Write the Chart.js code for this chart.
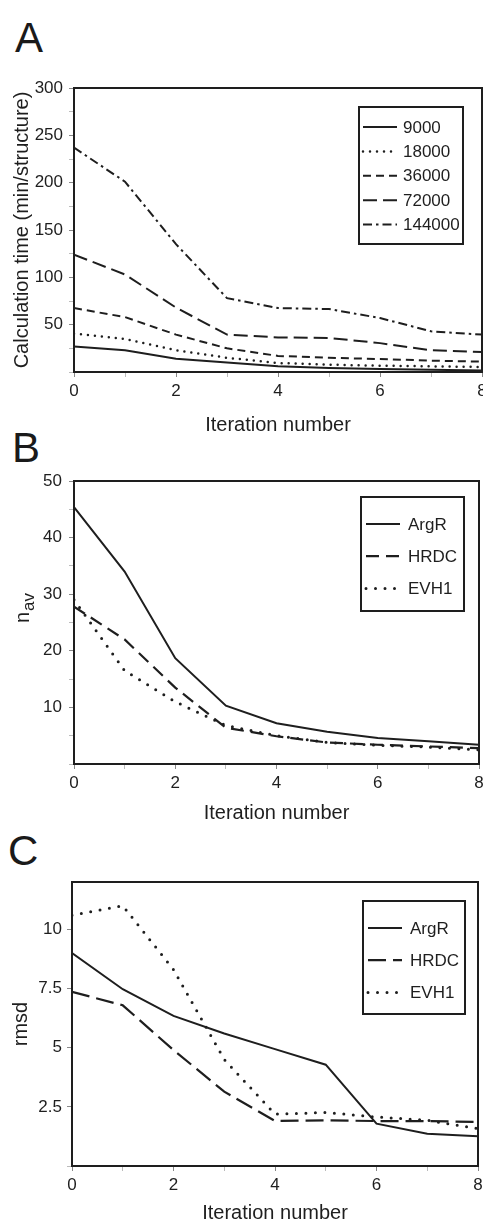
<!DOCTYPE html>
<html>
<head>
<meta charset="utf-8">
<script src="https://cdn.jsdelivr.net/npm/chart.js@4.4.1/dist/chart.umd.min.js"></script>
<style>
  body { margin: 0; background: #fff; width: 483px; height: 1227px; position: relative; overflow: hidden;
         font-family: "Liberation Sans", Arial, sans-serif; color: #1a1a1a; }
  .lab { position: absolute; font-size: 42px; line-height: 42px; }
  canvas { position: absolute; left: 0; }
</style>
</head>
<body>
<div class="lab" style="left:15px;top:17px">A</div>
<div class="lab" style="left:12px;top:427px">B</div>
<div class="lab" style="left:8px;top:830px">C</div>
<canvas id="chartA" width="483" height="370" style="top:70px"></canvas>
<canvas id="chartB" width="483" height="360" style="top:470px"></canvas>
<canvas id="chartC" width="483" height="357" style="top:870px"></canvas>
<script>
// iteration numbers (x axis, all panels)
const iterations = [0, 1, 2, 3, 4, 5, 6, 7, 8];
const xTicks = [0, 1, 2, 3, 4, 5, 6, 7, 8];

// panel A: calculation time (min/structure) per number of steps
const timeLabels = ["9000", "18000", "36000", "72000", "144000"];
const time9000   = [27, 23, 14, 10, 6, 4.2, 3.2, 2.4, 1.7];
const time18000  = [40.5, 35, 23, 15, 9.5, 7.7, 6.7, 6, 5.3];
const time36000  = [67.5, 58, 39.5, 25, 17, 15, 13.7, 12, 11];
const time72000  = [124, 103, 68, 39.5, 36.5, 36, 30.5, 23, 21];
const time144000 = [237, 201, 135, 78, 67.5, 66.5, 57, 43, 39.5];
const timeTicks  = [0, 25, 50, 75, 100, 125, 150, 175, 200, 225, 250, 275, 300];

// panels B and C: proteins
const proteins = ["ArgR", "HRDC", "EVH1"];
const navArgR = [45.4, 34, 18.7, 10.3, 7.2, 5.7, 4.6, 4.0, 3.4];
const navHRDC = [27.8, 22, 13.5, 6.4, 4.9, 3.8, 3.4, 3.1, 2.8];
const navEVH1 = [29, 16.5, 11, 6.8, 5, 3.8, 3.3, 3, 2.5];
const navTicks = [0, 5, 10, 15, 20, 25, 30, 35, 40, 45, 50];

const rmsdArgR = [9.0, 7.47, 6.34, 5.6, 4.94, 4.28, 1.79, 1.36, 1.26];
const rmsdHRDC = [7.36, 6.79, 4.9, 3.14, 1.9, 1.93, 1.9, 1.9, 1.86];
const rmsdEVH1 = [10.6, 11.0, 8.3, 4.5, 2.19, 2.26, 2.07, 1.93, 1.58];
const rmsdTicks = [0, 2.5, 5, 7.5, 10];

const ink = "#1e1e1e";
const font = "'Liberation Sans', Arial, sans-serif";

function pts(ys) {
  return iterations.map((x, i) => ({ x: x, y: ys[i] }));
}

// frame around plot + boxed legend inside it
const framePlugin = {
  id: "frameLegend",
  afterDatasetsDraw(chart, args, o) {
    const ctx = chart.ctx;
    const a = chart.chartArea;
    ctx.save();
    ctx.strokeStyle = ink;
    ctx.lineWidth = 2;
    ctx.strokeRect(a.left, a.top, a.right - a.left, a.bottom - a.top);

    const bx = a.right + o.dx, by = a.top + o.dy;
    ctx.strokeRect(bx, by, o.w, o.h);
    ctx.font = "17px " + font;
    ctx.fillStyle = ink;
    ctx.textBaseline = "middle";
    chart.data.datasets.forEach((ds, i) => {
      const y = by + o.first + i * o.gap;
      ctx.beginPath();
      ctx.setLineDash(ds.borderDash || []);
      ctx.lineCap = ds.borderCapStyle || "butt";
      ctx.lineWidth = ds.borderWidth;
      ctx.moveTo(bx + o.l1, y);
      ctx.lineTo(bx + o.l2, y);
      ctx.stroke();
      ctx.setLineDash([]);
      ctx.fillText(ds.label, bx + o.tx, y + 1);
    });

    // n_av title with subscript
    if (o.navTitle) {
      ctx.translate(o.navTitle.x, o.navTitle.y);
      ctx.rotate(-Math.PI / 2);
      ctx.textBaseline = "alphabetic";
      ctx.font = "20px " + font;
      const w = ctx.measureText("n").width;
      ctx.fillText("n", -18, 0);
      ctx.font = "17px " + font;
      ctx.fillText("av", -18 + w + 1, 5);
    }
    ctx.restore();
  }
};

function makeChart(id, datasets, cfg) {
  return new Chart(document.getElementById(id), {
    type: "line",
    data: { datasets: datasets },
    plugins: [framePlugin],
    options: {
      responsive: false,
      animation: false,
      layout: { padding: { top: cfg.padTop, right: cfg.padRight, left: 0, bottom: 0 } },
      elements: { point: { radius: 0 }, line: { tension: 0, borderColor: ink } },
      plugins: {
        legend: { display: false },
        tooltip: { enabled: false },
        frameLegend: cfg.legend
      },
      scales: {
        x: {
          type: "linear", min: 0, max: 8,
          afterBuildTicks: s => { s.ticks = xTicks.map(v => ({ value: v })); },
          afterFit: s => { s.height = cfg.xHeight; s.paddingLeft = 0; s.paddingRight = 0; },
          ticks: {
            autoSkip: false, maxRotation: 0, padding: 4, color: ink,
            font: { family: font, size: 17 },
            callback: v => (v % 2 === 0 ? String(v) : "")
          },
          grid: {
            drawOnChartArea: false, tickLength: 5, tickWidth: 1,
            tickColor: c => (c.tick && c.tick.value % 2 === 0 ? "#888" : "#bbb")
          },
          border: { display: false },
          title: {
            display: true, text: "Iteration number", color: ink,
            font: { family: font, size: 20 }, padding: { top: 0, bottom: cfg.xTitlePad }
          }
        },
        y: {
          min: cfg.yMin, max: cfg.yMax,
          afterBuildTicks: s => { s.ticks = cfg.yTicks.map(v => ({ value: v })); },
          afterFit: s => { s.width = cfg.yWidth; s.paddingTop = 0; s.paddingBottom = 0; },
          ticks: {
            autoSkip: false, padding: cfg.yTickPad, color: ink,
            font: { family: font, size: 17 },
            callback: cfg.yLabel
          },
          grid: {
            drawOnChartArea: false, tickLength: 5, tickWidth: 1,
            tickColor: c => (c.tick && cfg.yLabel(c.tick.value) !== "" ? "#888" : "#bbb")
          },
          border: { display: false },
          title: {
            display: !!cfg.yTitle, text: cfg.yTitle || "", color: ink,
            font: { family: font, size: 20 }, padding: { top: cfg.yTitlePad, bottom: 0 }
          }
        }
      }
    }
  });
}

// panel A
makeChart("chartA", [
  { label: timeLabels[0], data: pts(time9000), borderWidth: 2 },
  { label: timeLabels[1], data: pts(time18000), borderWidth: 2.5, borderDash: [0, 7], borderCapStyle: "round" },
  { label: timeLabels[2], data: pts(time36000), borderWidth: 2, borderDash: [8, 5] },
  { label: timeLabels[3], data: pts(time72000), borderWidth: 2, borderDash: [14, 6] },
  { label: timeLabels[4], data: pts(time144000), borderWidth: 2, borderDash: [9, 4, 2.5, 4] }
], {
  padTop: 18, padRight: 1, xHeight: 68, xTitlePad: 3, yWidth: 74, yTickPad: 6, yTitlePad: 10,
  yMin: 0, yMax: 300, yTicks: timeTicks,
  yLabel: v => (v !== 0 && v % 50 === 0 ? String(v) : ""),
  yTitle: "Calculation time (min/structure)",
  legend: { dx: -123, dy: 19, w: 104, h: 137, first: 20, gap: 24.4, l1: 4, l2: 38, tx: 44 }
});

// panel B
makeChart("chartB", [
  { label: proteins[0], data: pts(navArgR), borderWidth: 2 },
  { label: proteins[1], data: pts(navHRDC), borderWidth: 2.2, borderDash: [13, 7] },
  { label: proteins[2], data: pts(navEVH1), borderWidth: 3, borderDash: [0, 9.5], borderCapStyle: "round" }
], {
  padTop: 11, padRight: 4, xHeight: 66, xTitlePad: 5, yWidth: 74, yTickPad: 7, yTitlePad: 0,
  yMin: 0, yMax: 50, yTicks: navTicks,
  yLabel: v => (v !== 0 && v % 10 === 0 ? String(v) : ""),
  yTitle: "",
  legend: { dx: -118, dy: 16, w: 103, h: 114, first: 27, gap: 32.2, l1: 5, l2: 39, tx: 47,
            navTitle: { x: 29, y: 135 } }
});

// panel C
makeChart("chartC", [
  { label: proteins[0], data: pts(rmsdArgR), borderWidth: 2 },
  { label: proteins[1], data: pts(rmsdHRDC), borderWidth: 2.2, borderDash: [18, 7] },
  { label: proteins[2], data: pts(rmsdEVH1), borderWidth: 3, borderDash: [0, 9.5], borderCapStyle: "round" }
], {
  padTop: 12, padRight: 5, xHeight: 61, xTitlePad: 2, yWidth: 72, yTickPad: 5, yTitlePad: 9,
  yMin: 0, yMax: 12, yTicks: rmsdTicks,
  yLabel: v => (v !== 0 ? String(v) : ""),
  yTitle: "rmsd",
  legend: { dx: -115, dy: 19, w: 102, h: 113, first: 27, gap: 32.2, l1: 5, l2: 39, tx: 47 }
});
</script>
</body>
</html>
